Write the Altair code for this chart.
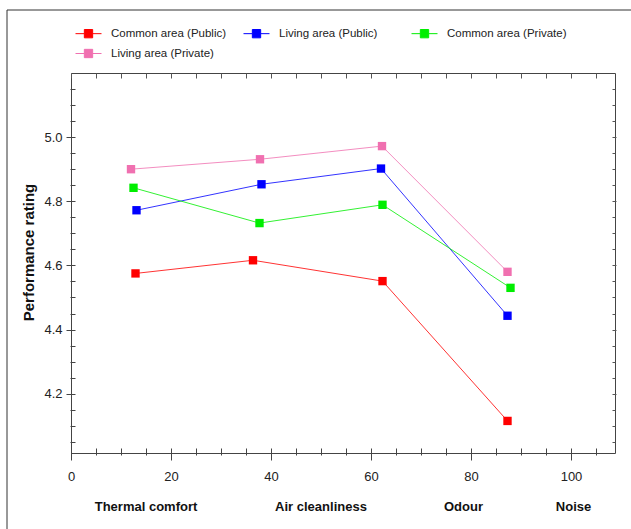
import altair as alt
import pandas as pd

series = ["Common area (Public)", "Living area (Public)", "Common area (Private)", "Living area (Private)"]
marker_colors = ["#ff0000", "#0000ff", "#00ee00", "#f070b0"]

x_common_public = [12.9, 36.4, 62.3, 87.3]
y_common_public = [4.575, 4.616, 4.551, 4.115]
x_living_public = [13.1, 38.1, 62.0, 87.3]
y_living_public = [4.772, 4.853, 4.902, 4.443]
x_common_private = [12.5, 37.7, 62.3, 87.9]
y_common_private = [4.842, 4.732, 4.789, 4.530]
x_living_private = [12.0, 37.8, 62.2, 87.3]
y_living_private = [4.900, 4.931, 4.972, 4.580]

categories = ["Thermal comfort", "Air cleanliness", "Odour", "Noise"]
category_x = [15, 50, 78.5, 100.5]

x_ticks = list(range(0, 110, 5))
y_ticks = [round(4.05 + 0.05 * i, 2) for i in range(23)]

rows = []
for name, xs, ys in zip(series,
                        [x_common_public, x_living_public, x_common_private, x_living_private],
                        [y_common_public, y_living_public, y_common_private, y_living_private]):
    for i, (xv, yv) in enumerate(zip(xs, ys)):
        rows.append({"series": name, "x": xv, "y": yv, "i": i})
df = pd.DataFrame(rows)
cat_df = pd.DataFrame({"label": categories, "x": category_x})

FONT = "Liberation Sans"
xscale = alt.Scale(domain=[0, 108.8], nice=False, zero=False)
yscale = alt.Scale(domain=[4.015, 5.2], nice=False, zero=False)
cscale = alt.Scale(domain=series, range=marker_colors)

major_x = "datum.value % 20 == 0"
major_y = "abs(datum.value*5 - round(datum.value*5)) < 0.001"

x_axis = alt.Axis(
    values=x_ticks, orient="bottom", offset=-5, domain=False, grid=False, title=None,
    labelExpr=f"{major_x} ? datum.label : ''",
    tickSize={"condition": {"test": major_x, "value": 12}, "value": 7},
    tickColor="#444", labelFont=FONT, labelFontSize=13, labelColor="#222",
    labelPadding=10, labelFlush=False, labelOverlap=False,
)
y_axis = alt.Axis(
    values=y_ticks, orient="left", offset=-4, domain=False, grid=False,
    title="Performance rating",
    labelExpr=f"{major_y} ? format(datum.value, '.1f') : ''",
    tickSize={"condition": {"test": major_y, "value": 9}, "value": 5},
    tickColor="#444", labelFont=FONT, labelFontSize=13, labelColor="#222",
    labelPadding=4, labelOverlap=False, labelFlush=False,
    titleFont=FONT, titleFontSize=15, titleFontWeight="bold", titleColor="#111",
    titleAngle=270, titleX=-47, titleY=179, titleAlign="center", titleBaseline="middle",
)
top_axis = alt.Axis(values=x_ticks, orient="top", offset=-5, tickSize=5, domain=False,
                    grid=False, labels=False, title=None, tickColor="#555")
right_axis = alt.Axis(values=y_ticks, orient="right", offset=-3,
                      tickSize={"condition": {"test": major_y, "value": 4}, "value": 3},
                      domain=False, grid=False, labels=False, title=None, tickColor="#555")

legend = alt.Legend(
    title=None, orient="none", legendX=4, legendY=-53, columns=3, gridAlign="all",
    direction="horizontal", values=series,
    symbolType="M-1,0H-0.32M0.32,0H1M-0.32,-0.32H0.32V0.32H-0.32Z",
    symbolSize=676, symbolStrokeWidth=1, labelFont=FONT, labelFontSize=11.5,
    labelColor="#222", labelOffset=9, columnPadding=10, rowPadding=0, padding=0,
)

lines = alt.Chart(df).mark_line(strokeWidth=1, strokeOpacity=0.8).encode(
    x=alt.X("x:Q", scale=xscale, axis=x_axis),
    y=alt.Y("y:Q", scale=yscale, axis=y_axis),
    color=alt.Color("series:N", scale=cscale, legend=legend, sort=series),
    order="i:O",
)
points = alt.Chart(df).mark_point(shape="square", filled=True, size=70, opacity=1).encode(
    x=alt.X("x:Q", scale=xscale, axis=None),
    y=alt.Y("y:Q", scale=yscale, axis=None),
    color=alt.Color("series:N", scale=cscale, legend=legend, sort=series),
)
mirror = alt.Chart(df).mark_point(opacity=0).encode(
    x=alt.X("x:Q", scale=xscale, axis=top_axis),
    y=alt.Y("y:Q", scale=yscale, axis=right_axis),
)
cat_text = alt.Chart(cat_df).mark_text(font=FONT, fontSize=13, fontWeight="bold", color="#111",
                                       baseline="middle", align="center").encode(
    x=alt.X("x:Q", scale=xscale, axis=None),
    y=alt.value(434),
    text="label:N",
)
border_df = pd.DataFrame({"a": [0]})
left_border = alt.Chart(border_df).mark_rule(color="#333", strokeWidth=1).encode(
    x=alt.value(-64), y=alt.value(-63), y2=alt.value(456))
top_border = alt.Chart(border_df).mark_rule(color="#333", strokeWidth=1).encode(
    x=alt.value(-64), x2=alt.value(560), y=alt.value(-63))

chart = alt.layer(lines, points, cat_text, mirror, left_border, top_border).resolve_axis(
    x="independent", y="independent"
).properties(
    width=544, height=380,
    autosize=alt.AutoSizeParams(type="none"),
    padding={"left": 71, "top": 73, "right": 16, "bottom": 76},
    background="white",
).configure_view(stroke="#444", strokeWidth=1)

chart.save("out.html", embed_options={"renderer": "svg", "actions": False})
